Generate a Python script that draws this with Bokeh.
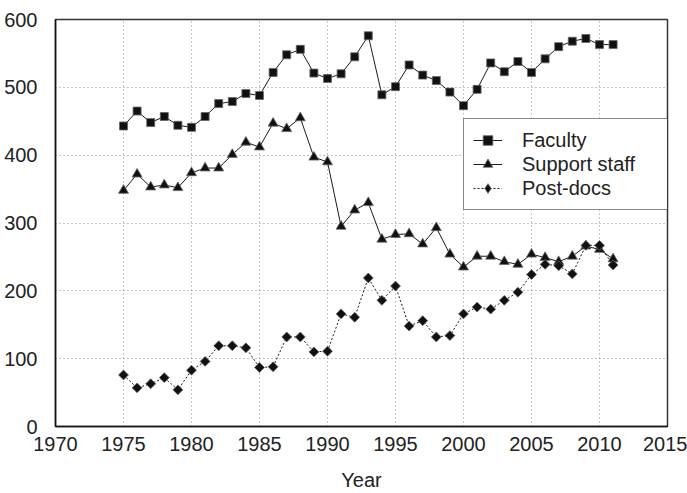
import math
from bokeh.plotting import figure
from bokeh.models import Range1d, FixedTicker, Legend, LegendItem
from bokeh.embed import file_html
from bokeh.resources import INLINE

years = list(range(1975, 2012))
faculty = [443, 465, 448, 457, 444, 441, 457, 476, 479, 491, 488, 522, 548, 556, 521,
           513, 520, 545, 576, 489, 501, 533, 518, 510, 493, 473, 497, 536, 523, 538,
           522, 542, 560, 568, 572, 563, 563]
support = [348, 372, 353, 356, 352, 374, 381, 381, 401, 419, 412, 447, 439, 455, 397,
           390, 295, 319, 330, 276, 283, 284, 269, 293, 254, 235, 251, 251, 243, 239,
           254, 249, 243, 251, 266, 261, 247]
postdocs = [76, 57, 63, 72, 54, 83, 96, 119, 119, 116, 87, 88, 132, 132, 110,
            111, 166, 161, 219, 186, 207, 148, 156, 132, 134, 166, 176, 173, 186, 198,
            224, 239, 237, 225, 267, 267, 238]
x_ticks = [1970, 1975, 1980, 1985, 1990, 1995, 2000, 2005, 2010, 2015]
y_ticks = [0, 100, 200, 300, 400, 500, 600]

FONT = "Liberation Sans"
INK = "#222222"

p = figure(width=687, height=493, output_backend="svg", toolbar_location=None,
           x_range=Range1d(1970, 2015), y_range=Range1d(0, 600),
           min_border_left=55, min_border_right=20, min_border_top=19, min_border_bottom=66)
p.background_fill_color = "white"
p.border_fill_color = "white"
p.outline_line_color = "#333333"
p.outline_line_width = 1.5

for ax in (p.xaxis[0], p.yaxis[0]):
    ax.major_tick_line_color = None
    ax.minor_tick_line_color = None
    ax.axis_line_color = "#111111"
    ax.axis_line_width = 1.5
    ax.major_label_text_font = FONT
    ax.major_label_text_font_size = "20px"
    ax.major_label_text_color = INK

p.xaxis.ticker = FixedTicker(ticks=x_ticks)
p.yaxis.ticker = FixedTicker(ticks=y_ticks)
p.xaxis.major_label_standoff = 4
p.yaxis.major_label_standoff = 12
p.xaxis.axis_label = "Year"
p.xaxis.axis_label_text_font = FONT
p.xaxis.axis_label_text_font_size = "20px"
p.xaxis.axis_label_text_font_style = "normal"
p.xaxis.axis_label_text_color = INK
p.xaxis.axis_label_standoff = 15

for g in (p.xgrid[0], p.ygrid[0]):
    g.grid_line_color = "#8a8a8a"
    g.grid_line_dash = "1 3"
    g.grid_line_width = 1

LINE = "#1a1a1a"
r1l = p.line(years, faculty, line_color=LINE, line_width=1)
r1m = p.scatter(years, faculty, marker="square", size=8, fill_color="#111111", line_color="#666666", line_width=0.8)
r2l = p.line(years, support, line_color=LINE, line_width=1)
r2m = p.scatter(years, support, marker="triangle", size=10, fill_color="#111111", line_color="#666666", line_width=0.8)
r3l = p.line(years, postdocs, line_color=LINE, line_width=1, line_dash="2 2")
r3m = p.scatter(years, postdocs, marker="square", angle=math.pi / 4, size=7, fill_color="#111111", line_color="#666666", line_width=0.8)
# hidden diamond renderer, used only for the legend glyph
r3k = p.scatter(years, postdocs, marker="diamond", size=11, fill_color="#111111", line_color="#666666", line_width=0.8, visible=False)

legend = Legend(items=[
    LegendItem(label="Faculty", renderers=[r1l, r1m]),
    LegendItem(label="Support staff", renderers=[r2l, r2m]),
    LegendItem(label="Post-docs", renderers=[r3l, r3k]),
], location=(408, 216))
legend.label_text_font = FONT
legend.label_text_font_size = "20px"
legend.label_text_color = INK
legend.glyph_width = 29
legend.glyph_height = 24
legend.label_height = 24
legend.label_standoff = 20
legend.label_width = 137
legend.padding = 9
legend.spacing = 0
legend.border_line_color = "#111111"
legend.border_line_width = 1.2
legend.background_fill_color = "white"
legend.background_fill_alpha = 1.0
p.add_layout(legend, "center")

open("out.html", "w").write(file_html(p, INLINE))
